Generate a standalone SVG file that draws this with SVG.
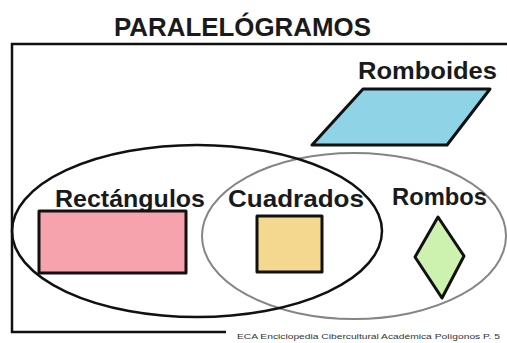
<svg xmlns="http://www.w3.org/2000/svg" width="507" height="343" viewBox="0 0 507 343">
<style>
.lbl{font-family:"Liberation Sans",Arial,sans-serif;font-weight:bold;font-size:24px;fill:#1a1a1a}
.shape{stroke:#111;stroke-width:3;stroke-linejoin:round}
.foot{font-family:"Liberation Sans",Arial,sans-serif;font-size:8px;fill:#333}
</style>
<rect width="507" height="343" fill="#fff"/>
<g id="frame" fill="none" stroke="#111" stroke-width="2.5">
<polyline points="507,44 12,44 12,332 226,332"/>
</g>
<g id="title"><text class="lbl" x="114" y="36" style="font-size:25px" textLength="257" lengthAdjust="spacingAndGlyphs">PARALELÓGRAMOS</text></g>
<g id="rombos-set"><ellipse cx="354" cy="236" rx="152" ry="83" fill="none" stroke="#858585" stroke-width="2"/></g>
<g id="rectangulos-set"><ellipse cx="197" cy="231" rx="185" ry="86" fill="none" stroke="#111" stroke-width="2.5"/></g>
<g id="romboides">
<text class="lbl" x="358" y="79" textLength="139" lengthAdjust="spacingAndGlyphs">Romboides</text>
<polygon class="shape" points="363,89 490,89 447,145 312,145" fill="#8fd3e6"/>
</g>
<g id="rectangulos">
<text class="lbl" x="55" y="207" textLength="150" lengthAdjust="spacingAndGlyphs">Rectángulos</text>
<rect class="shape" x="39" y="211" width="147" height="62" fill="#f7a3ad"/>
</g>
<g id="cuadrados">
<text class="lbl" x="228" y="207" textLength="136" lengthAdjust="spacingAndGlyphs">Cuadrados</text>
<rect class="shape" x="257" y="216" width="65" height="56" fill="#f5d88f"/>
</g>
<g id="rombos">
<text class="lbl" x="392" y="205" textLength="95" lengthAdjust="spacingAndGlyphs">Rombos</text>
<polygon class="shape" points="438,217 464,256 442,298 415,257" fill="#cdf2b0"/>
</g>
<g id="connectors"/>
<g id="footer"><text class="foot" x="237" y="339" textLength="263" lengthAdjust="spacingAndGlyphs">ECA Enciclopedia Cibercultural Académica Polígonos P. 5</text></g>
</svg>
